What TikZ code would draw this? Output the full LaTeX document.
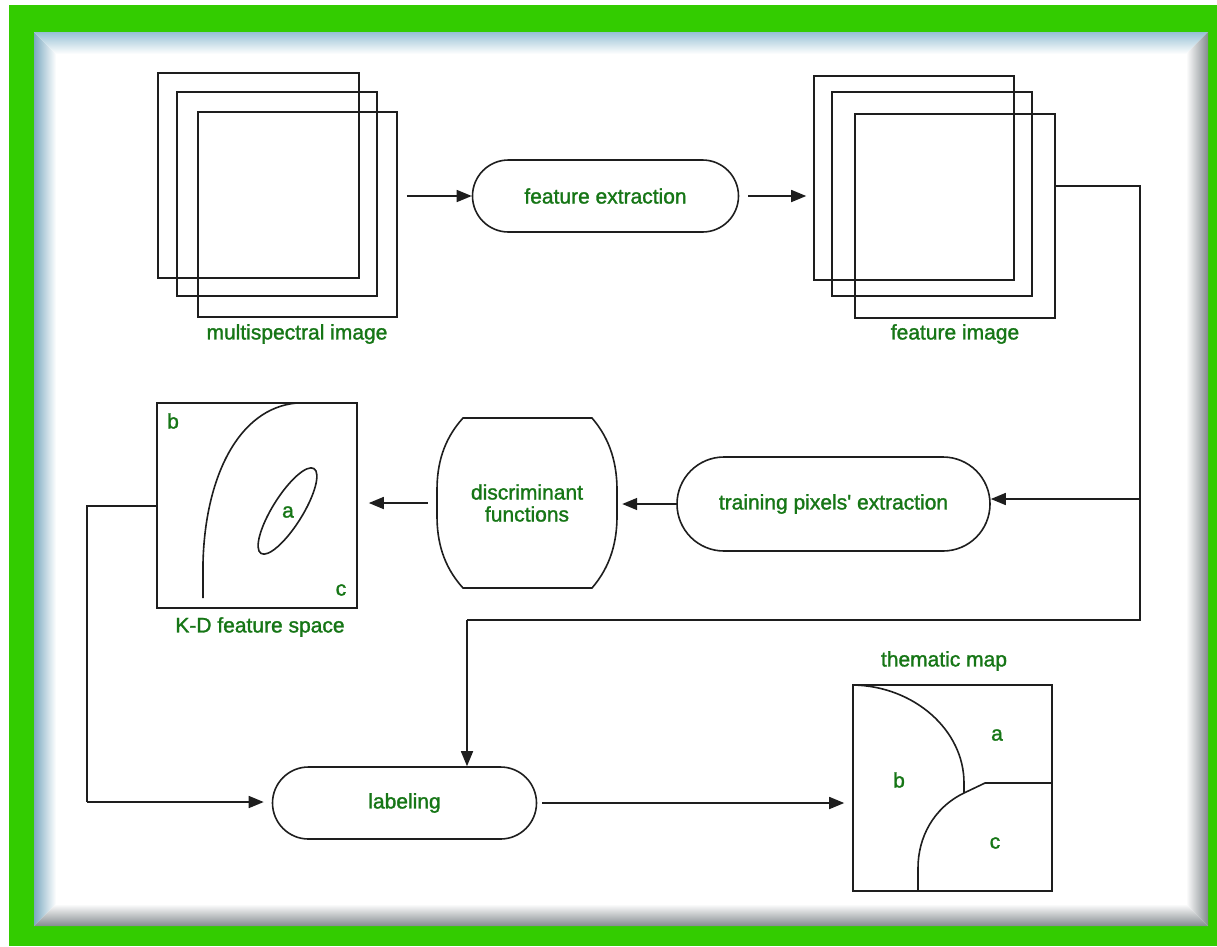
\documentclass[tikz,border=0pt]{standalone}
\usepackage{fontspec}
\setmainfont{Liberation Sans}
\newfontfamily\lblfont[FakeBold=1.4]{Liberation Sans}
\usetikzlibrary{arrows.meta,calc}
\definecolor{bordergreen}{RGB}{51,204,0}
\definecolor{txtgreen}{RGB}{22,118,22}
\definecolor{bevelblue}{RGB}{125,170,193}
\definecolor{bevelbluelt}{RGB}{150,192,212}
\definecolor{bevelgray}{RGB}{132,139,143}
\definecolor{inkline}{RGB}{30,30,30}
\begin{document}
\begin{tikzpicture}[x=1pt,y=-1pt,
  ln/.style={draw=inkline,line width=1.6pt},
  sq/.style={ln,rectangle,inner sep=0pt},
  capsule/.style={ln,rectangle,inner sep=0pt,rounded corners=#1,text=txtgreen,font=\lblfont\fontsize{21}{22}\selectfont},
  lbl/.style={text=txtgreen,font=\lblfont\fontsize{21}{22}\selectfont,inner sep=0pt,align=center},
  arr/.style={ln,-{Triangle[length=15pt,width=12pt]}}]
\useasboundingbox (0,0) rectangle (1217,946);
% background and frame
\fill[white] (0,0) rectangle (1217,946);
\fill[bordergreen] (9,5) rectangle (1217,946);
\fill[white] (34,32) rectangle (1208,926);
\shade[left color=bevelblue, right color=white] (34,32) -- (56,54) -- (56,904) -- (34,926) -- cycle;
\shade[top color=bevelbluelt, bottom color=white] (34,32) -- (1208,32) -- (1186,54) -- (56,54) -- cycle;
\shade[left color=white, right color=bevelgray] (1208,32) -- (1208,926) -- (1186,904) -- (1186,54) -- cycle;
\shade[top color=white, bottom color=bevelgray] (34,926) -- (1208,926) -- (1186,904) -- (56,904) -- cycle;

% multispectral image
\node[sq,minimum width=201pt,minimum height=205pt] (ms1) at (258.5,175.5) {};
\node[sq,minimum width=200pt,minimum height=204pt] (ms2) at (277,194) {};
\node[sq,minimum width=199pt,minimum height=205pt] (ms3) at (297.5,214.5) {};
\node[lbl] (msl) at (297,334) {multispectral image};

% feature extraction
\node[capsule=36pt,minimum width=266pt,minimum height=72pt] (fe) at (605.5,196) {feature extraction};

% feature image
\node[sq,minimum width=200pt,minimum height=204pt] (fi1) at (914,178) {};
\node[sq,minimum width=200pt,minimum height=204pt] (fi2) at (932,194) {};
\node[sq,minimum width=200pt,minimum height=204pt] (fi3) at (955,216) {};
\node[lbl] (fil) at (955,334) {feature image};

% training pixels' extraction
\node[capsule=47pt,minimum width=313pt,minimum height=94pt] (tr) at (833.5,504) {training pixels' extraction};

% discriminant functions
\node[lbl,minimum width=180pt,minimum height=170pt] (df) at (527,503) {discriminant\\functions};
\draw[ln] (463,418) -- (592,418) .. controls (611,440) and (617,465) .. (617,490) -- (617,516)
  .. controls (617,541) and (611,566) .. (592,588) -- (463,588)
  .. controls (443,566) and (437,541) .. (437,516) -- (437,490)
  .. controls (437,465) and (443,440) .. (463,418) -- cycle;

% K-D feature space
\node[sq,minimum width=200pt,minimum height=205pt] (kd) at (257,505.5) {};
\node[lbl] (kdb) at (173,421) {b};
\node[lbl] (kda) at (288,512) {a};
\node[lbl] (kdc) at (341,590) {c};
\node[lbl] (kdl) at (260,627) {K-D feature space};
\draw[ln] (203,598) -- (203,563) .. controls (205,478) and (238,408) .. (297,403);
\draw[ln,rotate around={58:(287.5,511)}] (287.5,511) ellipse [x radius=50pt, y radius=15pt];

% labeling
\node[capsule=36pt,minimum width=264pt,minimum height=72pt] (lab) at (404.5,803) {labeling};

% thematic map
\node[sq,minimum width=199pt,minimum height=206pt] (tm) at (952.5,788) {};
\node[lbl] (tml) at (944,661) {thematic map};
\node[lbl] (tma) at (997,735) {a};
\node[lbl] (tmb) at (899,780) {b};
\node[lbl] (tmc) at (995,843) {c};
\draw[ln] (853,685) .. controls (914,686) and (964,730) .. (964,783) -- (964,793);
\draw[ln] (964,793) -- (985,783) -- (1052,783);
\draw[ln] (964,793) .. controls (933,808) and (918,838) .. (918,868) -- (918,891);

% connectors
\coordinate (j1) at (1140,186);
\coordinate (j2) at (1140,499);
\coordinate (j3) at (1140,620);
\coordinate (j4) at (467,620);
\coordinate (k1) at (87,506);
\coordinate (k2) at (87,802);

\draw[arr,shorten <=9pt] (fe.west -| ms3.east) -- (fe.west);
\draw[arr,shorten <=9pt,shorten >=7pt] (fe.east) -- (fe.east -| fi1.west);
\draw[ln] (fi3.east |- j1) -- (j1) -- (j3) -- (j4);
\draw[arr] (j4) -- (j4 |- lab.north);
\draw[arr] (j2) -- (j2 -| tr.east);
\draw[arr,shorten >=5pt] (tr.west) -- (tr.west -| df.east);
\draw[arr,shorten <=9pt,shorten >=11pt] (df.west) -- (df.west -| kd.east);
\draw[ln] (kd.west |- k1) -- (k1) -- (k2);
\draw[arr,shorten >=8pt] (k2) -- (k2 -| lab.west);
\draw[arr,shorten <=5pt,shorten >=8pt] (lab.east) -- (lab.east -| tm.west);
\end{tikzpicture}
\end{document}
